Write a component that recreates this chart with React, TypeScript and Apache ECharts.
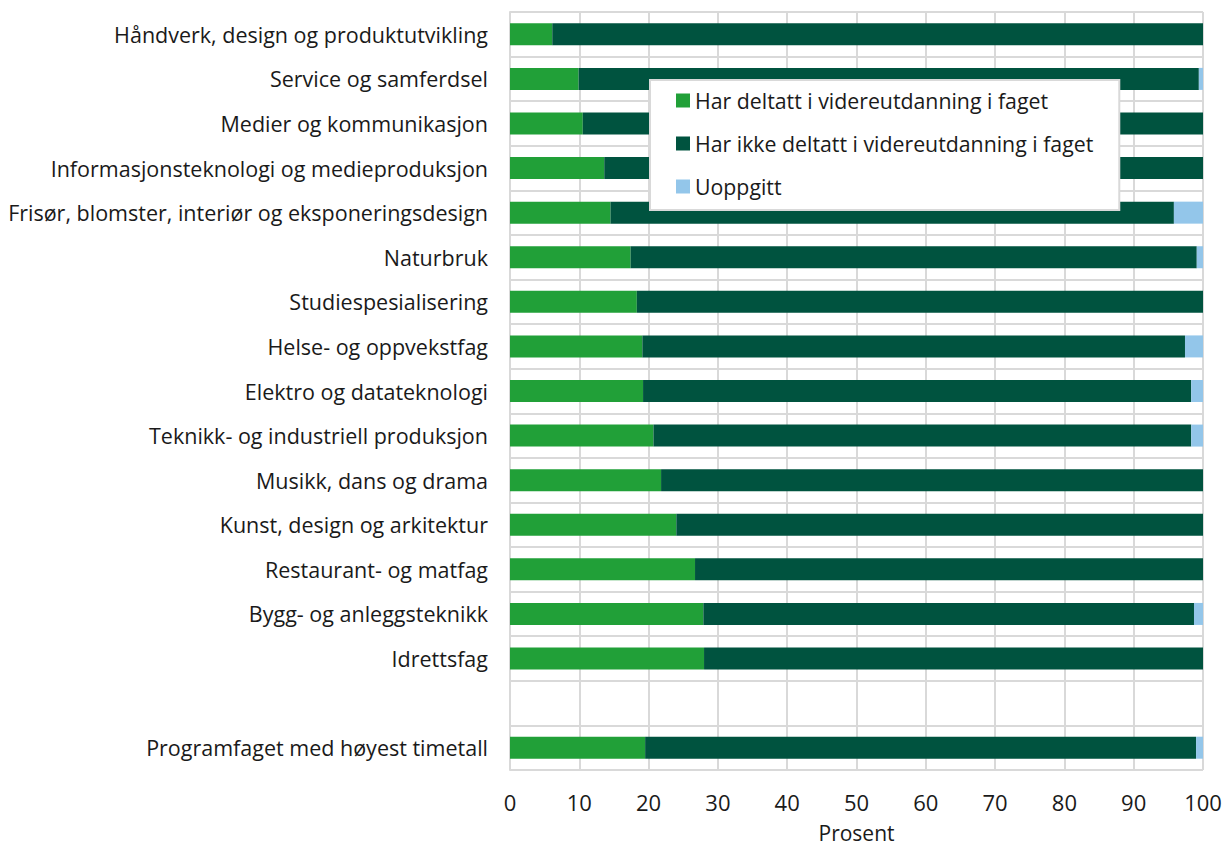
import React, { useEffect, useRef } from "react";
import * as echarts from "echarts";

const categories = [
  "Håndverk, design og produktutvikling",
  "Service og samferdsel",
  "Medier og kommunikasjon",
  "Informasjonsteknologi og medieproduksjon",
  "Frisør, blomster, interiør og eksponeringsdesign",
  "Naturbruk",
  "Studiespesialisering",
  "Helse- og oppvekstfag",
  "Elektro og datateknologi",
  "Teknikk- og industriell produksjon",
  "Musikk, dans og drama",
  "Kunst, design og arkitektur",
  "Restaurant- og matfag",
  "Bygg- og anleggsteknikk",
  "Idrettsfag",
  "",
  "Programfaget med høyest timetall",
];

const deltatt = [6.1, 9.9, 10.5, 13.6, 14.5, 17.4, 18.3, 19.1, 19.2, 20.7, 21.8, 24.0, 26.7, 27.9, 28.0, null, 19.5];
const uoppgitt = [0, 0.6, 0, 0, 4.2, 0.9, 0, 2.6, 1.7, 1.7, 0, 0, 0, 1.3, 0, null, 1.0];
const ikkeDeltatt = [93.9, 89.5, 89.5, 86.4, 81.3, 81.7, 81.7, 78.3, 79.1, 77.6, 78.2, 76.0, 73.3, 70.8, 72.0, null, 79.5];

const seriesNames = [
  "Har deltatt i videreutdanning i faget",
  "Har ikke deltatt i videreutdanning i faget",
  "Uoppgitt",
];
const colors = ["#21a038", "#00533f", "#93c6ea"];
const xTicks = [0, 10, 20, 30, 40, 50, 60, 70, 80, 90, 100];

export default function App() {
  const ref = useRef<HTMLDivElement>(null);
  useEffect(() => {
    if (!ref.current) return;
    const chart = echarts.init(ref.current, null, { renderer: "svg" });
    const font = "'Open Sans', 'Noto Sans', sans-serif";
    const dataSets = [deltatt, ikkeDeltatt, uoppgitt];
    chart.setOption({
      animation: false,
      textStyle: { fontFamily: font },
      grid: {
        left: 510,
        right: 28,
        top: 12,
        bottom: 75,
        containLabel: false,
        outerBoundsMode: "none",
      },
      legend: {
        orient: "vertical",
        left: 650,
        top: 80,
        padding: [10, 26, 13, 26],
        itemGap: 22,
        itemWidth: 14,
        itemHeight: 14,
        icon: "rect",
        backgroundColor: "#ffffff",
        borderColor: "#d9d9d9",
        borderWidth: 2,
        textStyle: { fontSize: 21.3, color: "#1a1a1a", fontFamily: font },
        data: seriesNames,
      },
      xAxis: {
        type: "value",
        min: 0,
        max: 100,
        interval: 10,
        name: "Prosent",
        nameLocation: "middle",
        nameGap: 52,
        nameTextStyle: { fontSize: 21, lineHeight: 22, color: "#1a1a1a", fontFamily: font },
        axisLine: { show: false },
        axisTick: { show: false },
        axisLabel: {
          fontSize: 22,
          color: "#1a1a1a",
          margin: 21,
          fontFamily: font,
          formatter: (v: number) => (xTicks.includes(v) ? String(v) : ""),
        },
        splitLine: { show: true, lineStyle: { color: "#d9d9d9", width: 2 } },
      },
      yAxis: {
        type: "category",
        data: categories,
        inverse: true,
        axisLine: { show: true, lineStyle: { color: "#d9d9d9", width: 2 } },
        axisTick: { show: false },
        axisLabel: { fontSize: 21.5, color: "#1a1a1a", margin: 22, fontFamily: font },
        splitLine: { show: true, lineStyle: { color: "#d9d9d9", width: 2 } },
      },
      series: seriesNames.map((name, i) => ({
        name,
        type: "bar",
        stack: "total",
        barWidth: 22,
        data: dataSets[i],
        itemStyle: { color: colors[i] },
        z: 3,
      })),
    });
    return () => chart.dispose();
  }, []);
  return (
    <div
      ref={ref}
      style={{ position: "fixed", left: 0, top: 0, width: 1231, height: 845, background: "#fff" }}
    />
  );
}
